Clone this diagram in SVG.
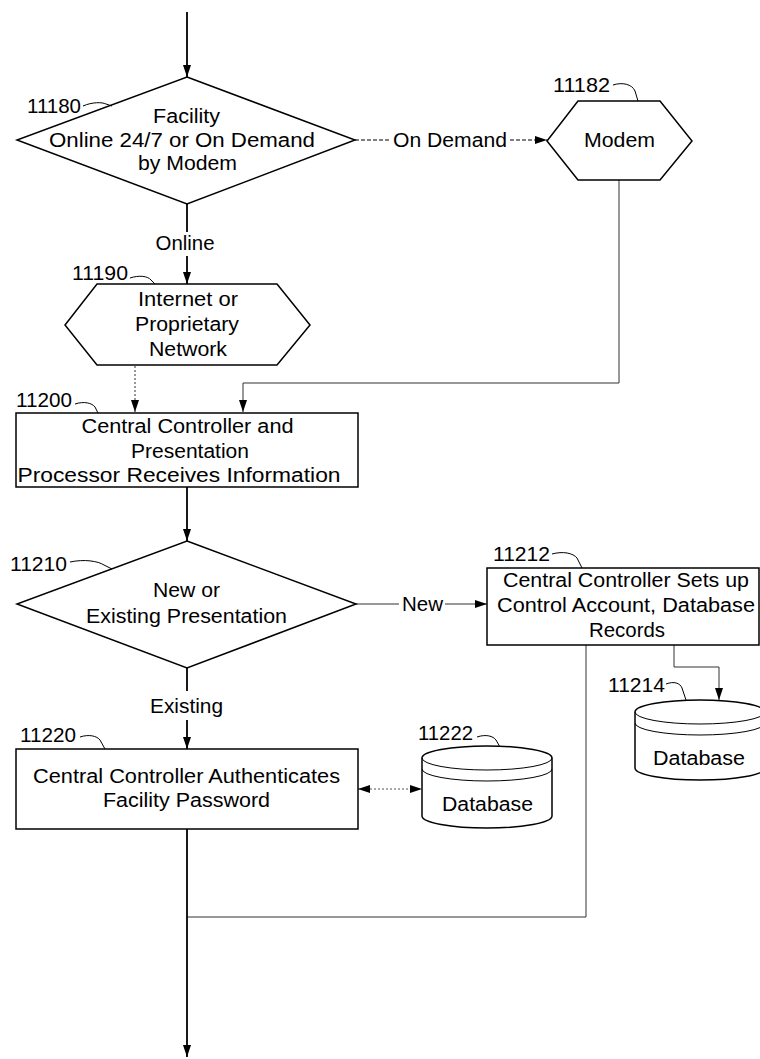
<svg xmlns="http://www.w3.org/2000/svg" width="760" height="1059" viewBox="0 0 760 1059">
<defs>
<marker id="arr" viewBox="0 0 12 8" refX="12" refY="4" markerWidth="12" markerHeight="8" markerUnits="userSpaceOnUse" orient="auto-start-reverse">
<path d="M0,0 L12,4 L0,8 z" fill="#000"/>
</marker>
<style>
text{font-family:"Liberation Sans",Arial,sans-serif;font-size:20px;fill:#000}
.c{text-anchor:middle}
.shape{fill:#fff;stroke:#000;stroke-width:1.5}
.lead{fill:none;stroke:#000;stroke-width:1}
.solid{fill:none;stroke:#000;stroke-width:1.8}
.thin{fill:none;stroke:#333;stroke-width:1}
.dash{fill:none;stroke:#000;stroke-width:1.2;stroke-dasharray:4,2}
.dot{fill:none;stroke:#555;stroke-width:1.2;stroke-dasharray:2,2}
</style>
</defs>
<rect width="760" height="1059" fill="#fff"/>

<g id="connectors">
<path class="solid" d="M187,12 V77" marker-end="url(#arr)"/>
<path class="dash" d="M355,140 H390"/>
<path class="dash" d="M510,140 H547" marker-end="url(#arr)"/>
<path class="solid" d="M187,204 V232"/>
<path class="solid" d="M187,256 V284" marker-end="url(#arr)"/>
<path class="thin" d="M619,180 V383 H243 V412" marker-end="url(#arr)"/>
<path class="dot" d="M135,366 V412" marker-end="url(#arr)"/>
<path class="solid" d="M187,487 V541" marker-end="url(#arr)"/>
<path class="thin" d="M356,604 H399"/>
<path class="thin" d="M445,604 H487" marker-end="url(#arr)"/>
<path class="solid" d="M187,668 V691"/>
<path class="solid" d="M187,720 V749" marker-end="url(#arr)"/>
<path class="dot" d="M358,789 H422" marker-start="url(#arr)" marker-end="url(#arr)"/>
<path class="thin" d="M674,645 V667 H719 V700" marker-end="url(#arr)"/>
<path class="thin" d="M586,645 V917 H187"/>
<path class="solid" d="M187,829 V1057" marker-end="url(#arr)"/>
<text class="c" x="450" y="147" textLength="114" lengthAdjust="spacingAndGlyphs">On Demand</text>
<text class="c" x="185" y="250" textLength="59" lengthAdjust="spacingAndGlyphs">Online</text>
<text class="c" x="422.5" y="611" textLength="41" lengthAdjust="spacingAndGlyphs">New</text>
<text class="c" x="186.5" y="713" textLength="73" lengthAdjust="spacingAndGlyphs">Existing</text>
</g>

<g id="n11180">
<polygon class="shape" points="187,77 355,140 187,204 17,140"/>
<text class="c" x="186.5" y="123" textLength="67" lengthAdjust="spacingAndGlyphs">Facility</text>
<text class="c" x="182" y="147" textLength="266" lengthAdjust="spacingAndGlyphs">Online 24/7 or On Demand</text>
<text class="c" x="187.5" y="170" textLength="99" lengthAdjust="spacingAndGlyphs">by Modem</text>
<text x="27" y="113" textLength="54" lengthAdjust="spacingAndGlyphs">11180</text>
<path class="lead" d="M83,106 C92,102 102,102 106,104 L112,106"/>
</g>

<g id="n11182">
<polygon class="shape" points="578,101 660,101 692,141 660,180 578,180 547,141"/>
<text class="c" x="619.5" y="147" textLength="71" lengthAdjust="spacingAndGlyphs">Modem</text>
<text x="553" y="92" textLength="57" lengthAdjust="spacingAndGlyphs">11182</text>
<path class="lead" d="M613,85 C622,82 632,84 635,91 L638,101"/>
</g>

<g id="n11190">
<polygon class="shape" points="97,284 277,284 310,325 277,365 97,365 65,325"/>
<text class="c" x="188" y="306" textLength="100" lengthAdjust="spacingAndGlyphs">Internet or</text>
<text class="c" x="187" y="331" textLength="104" lengthAdjust="spacingAndGlyphs">Proprietary</text>
<text class="c" x="188" y="356" textLength="78" lengthAdjust="spacingAndGlyphs">Network</text>
<text x="72" y="280" textLength="56" lengthAdjust="spacingAndGlyphs">11190</text>
<path class="lead" d="M130,278 C139,275 148,276 151,280 L155,284"/>
</g>

<g id="n11200">
<rect class="shape" x="16" y="413" width="342" height="74"/>
<text class="c" x="187.5" y="433" textLength="212" lengthAdjust="spacingAndGlyphs">Central Controller and</text>
<text class="c" x="190" y="458" textLength="118" lengthAdjust="spacingAndGlyphs">Presentation</text>
<text class="c" x="179" y="482" textLength="323" lengthAdjust="spacingAndGlyphs">Processor Receives Information</text>
<text x="16" y="407" textLength="56" lengthAdjust="spacingAndGlyphs">11200</text>
<path class="lead" d="M75,404 C84,401 92,403 95,407 L98,413"/>
</g>

<g id="n11210">
<polygon class="shape" points="187,541 356,604 187,668 17,604"/>
<text class="c" x="186.5" y="597" textLength="67" lengthAdjust="spacingAndGlyphs">New or</text>
<text class="c" x="186.5" y="623" textLength="201" lengthAdjust="spacingAndGlyphs">Existing Presentation</text>
<text x="10" y="571" textLength="57" lengthAdjust="spacingAndGlyphs">11210</text>
<path class="lead" d="M70,562 C84,559 98,561 104,565 L112,569"/>
</g>

<g id="n11212">
<rect class="shape" x="487" y="568" width="272" height="77"/>
<text class="c" x="626" y="587" textLength="246" lengthAdjust="spacingAndGlyphs">Central Controller Sets up</text>
<text class="c" x="626" y="612" textLength="258" lengthAdjust="spacingAndGlyphs">Control Account, Database</text>
<text class="c" x="627" y="637" textLength="76" lengthAdjust="spacingAndGlyphs">Records</text>
<text x="493" y="561" textLength="57" lengthAdjust="spacingAndGlyphs">11212</text>
<path class="lead" d="M552,554 C563,551 573,553 577,558 L582,568"/>
</g>

<g id="n11214">
<path class="shape" d="M635,712 A65,12 0 0 1 765,712 V768 A65,12 0 0 1 635,768 Z"/>
<path class="lead" d="M635,712 A65,12 0 0 0 765,712"/>
<path class="lead" d="M635,723 A65,12 0 0 0 765,723"/>
<text class="c" x="699" y="765" textLength="92" lengthAdjust="spacingAndGlyphs">Database</text>
<text x="608" y="692" textLength="57" lengthAdjust="spacingAndGlyphs">11214</text>
<path class="lead" d="M666,684 C674,681 680,683 682,688 L686,700"/>
</g>

<g id="n11220">
<rect class="shape" x="16" y="749" width="342" height="80"/>
<text class="c" x="186.5" y="783" textLength="307" lengthAdjust="spacingAndGlyphs">Central Controller Authenticates</text>
<text class="c" x="186.5" y="807" textLength="167" lengthAdjust="spacingAndGlyphs">Facility Password</text>
<text x="20" y="742" textLength="56" lengthAdjust="spacingAndGlyphs">11220</text>
<path class="lead" d="M80,737 C89,734 97,736 100,740 L105,749"/>
</g>

<g id="n11222">
<path class="shape" d="M422,758 A65,12 0 0 1 552,758 V816 A65,12 0 0 1 422,816 Z"/>
<path class="lead" d="M422,758 A65,12 0 0 0 552,758"/>
<path class="lead" d="M422,769 A65,12 0 0 0 552,769"/>
<text class="c" x="487.5" y="811" textLength="91" lengthAdjust="spacingAndGlyphs">Database</text>
<text x="418" y="740" textLength="55" lengthAdjust="spacingAndGlyphs">11222</text>
<path class="lead" d="M477,737 C486,734 493,736 496,740 L500,747"/>
</g>
</svg>
